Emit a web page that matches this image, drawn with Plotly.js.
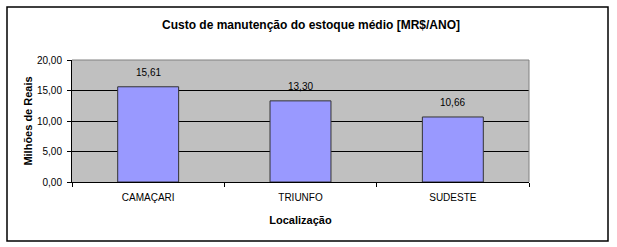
<!DOCTYPE html>
<html><head><meta charset="utf-8">
<script src="https://cdn.plot.ly/plotly-3.0.1.min.js"></script>
<style>html,body{margin:0;padding:0;background:#fff}#c{width:617px;height:247px}</style>
</head><body><div id="c"></div>
<script>
const categories = ["CAMAÇARI", "TRIUNFO", "SUDESTE"];
const values = [15.61, 13.30, 10.66];
const valueLabels = ["15,61", "13,30", "10,66"];
const yTicks = [0, 5, 10, 15, 20];

const font = "Liberation Sans, Arial, sans-serif";
const L = 72, R = 88, T = 60, B = 65, W = 617, H = 247;
const pw = W - L - R, ph = H - T - B;
const px = x => (x - L) / pw;
const py = y => (H - B - y) / ph;

Plotly.newPlot("c", [{
  type: "bar",
  x: categories,
  y: values,
  marker: {color: "#9999FF", line: {color: "#333333", width: 1}},
  hoverinfo: "none"
}], {
  width: W, height: H,
  margin: {l: L, r: R, t: T, b: B, pad: 0},
  paper_bgcolor: "#fff",
  plot_bgcolor: "#C0C0C0",
  separators: ",.",
  bargap: 0.6,
  showlegend: false,
  font: {family: font, size: 10, color: "#000"},
  title: {text: "<b>Custo de manutenção do estoque médio [MR$/ANO]</b>",
          font: {family: font, size: 12, color: "#000"},
          x: px(311), xref: "paper", xanchor: "center", y: 1 - 25 / H, yanchor: "middle"},
  xaxis: {
    tickson: "boundaries", ticks: "outside", ticklen: 4, tickcolor: "#000",
    showline: true, linecolor: "#000", linewidth: 1,
    ticklabelstandoff: 6,
    tickfont: {family: font, size: 10, color: "#000"},
    title: {text: "<b>Localização</b>", font: {family: font, size: 11, color: "#000"}, standoff: 14},
    showgrid: false
  },
  yaxis: {
    range: [0, 20], tickvals: yTicks, tickformat: ".2f",
    ticks: "outside", ticklen: 4, tickcolor: "#000",
    showline: true, linecolor: "#000", linewidth: 1,
    ticklabelstandoff: 3,
    gridcolor: "#000", gridwidth: 1,
    tickfont: {family: font, size: 10, color: "#000"},
    title: {text: "<b>Milhões de Reais</b>", font: {family: font, size: 11, color: "#000"}, standoff: 2},
    zeroline: false
  },
  annotations: categories.map((c, i) => ({
    x: c, y: values[i], xref: "x", yref: "y", text: valueLabels[i],
    showarrow: false, yanchor: "middle", yshift: 14,
    font: {family: font, size: 10, color: "#000"}
  })),
  shapes: [
    {type: "path", xref: "paper", yref: "paper", path: "M0,1 L1,1 L1,0",
     line: {color: "#808080", width: 1}, layer: "above"},
    {type: "rect", xref: "paper", yref: "paper", x0: px(7), x1: px(608), y0: py(241), y1: py(7),
     line: {color: "#000", width: 1.5}, layer: "above"}
  ]
}, {staticPlot: true});
</script></body></html>
